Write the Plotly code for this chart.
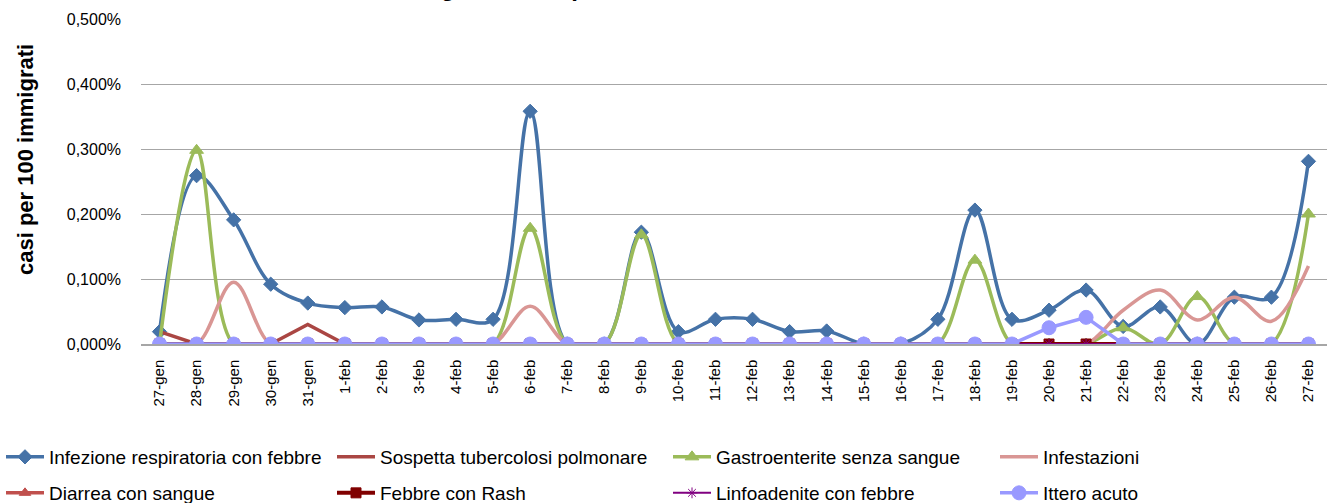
import plotly.graph_objects as go

categories = ["27-gen", "28-gen", "29-gen", "30-gen", "31-gen",
              "1-feb", "2-feb", "3-feb", "4-feb", "5-feb", "6-feb", "7-feb",
              "8-feb", "9-feb", "10-feb", "11-feb", "12-feb", "13-feb", "14-feb",
              "15-feb", "16-feb", "17-feb", "18-feb", "19-feb", "20-feb", "21-feb",
              "22-feb", "23-feb", "24-feb", "25-feb", "26-feb", "27-feb"]

# values in percent (casi per 100 immigrati)
infezione_respiratoria = [0.019, 0.259, 0.191, 0.092, 0.063, 0.056, 0.057, 0.037, 0.038, 0.038,
                          0.358, 0.0, 0.0, 0.172, 0.019, 0.038, 0.038, 0.019, 0.020, 0.0,
                          0.0, 0.038, 0.206, 0.038, 0.052, 0.083, 0.027, 0.057, 0.0, 0.072,
                          0.072, 0.281]
sospetta_tbc = [0.019, 0.0, 0.0, 0.0, 0.030, 0.0, 0.0, 0.0, 0.0, 0.0,
                0.0, 0.0, 0.0, 0.0, 0.0, 0.0, 0.0, 0.0, 0.0, 0.0,
                0.0, 0.0, 0.0, 0.0, 0.0, 0.0, 0.0, 0.0, 0.0, 0.0,
                0.0, 0.0]
gastroenterite = [0.0, 0.298, 0.0, 0.0, 0.0, 0.0, 0.0, 0.0, 0.0, 0.0,
                  0.178, 0.0, 0.0, 0.168, 0.0, 0.0, 0.0, 0.0, 0.0, 0.0,
                  0.0, 0.0, 0.129, 0.0, 0.0, 0.0, 0.025, 0.0, 0.073, 0.0,
                  0.0, 0.200]
infestazioni = [0.0, 0.0, 0.095, 0.0, 0.0, 0.0, 0.0, 0.0, 0.0, 0.0,
                0.058, 0.0, 0.0, 0.0, 0.0, 0.0, 0.0, 0.0, 0.0, 0.0,
                0.0, 0.0, 0.0, 0.0, 0.0, 0.0, 0.052, 0.083, 0.037, 0.072,
                0.035, 0.120]
diarrea = [0.0] * 32
febbre_rash = [0.0] * 32
linfoadenite = [0.0] * 32
ittero = [0.0, 0.0, 0.0, 0.0, 0.0, 0.0, 0.0, 0.0, 0.0, 0.0,
          0.0, 0.0, 0.0, 0.0, 0.0, 0.0, 0.0, 0.0, 0.0, 0.0,
          0.0, 0.0, 0.0, 0.0, 0.025, 0.041, 0.0, 0.0, 0.0, 0.0,
          0.0, 0.0]

y_ticks = [0.0, 0.1, 0.2, 0.3, 0.4, 0.5]
y_tick_labels = ["0,000%", "0,100%", "0,200%", "0,300%", "0,400%", "0,500%"]

W, H = 1330, 503
L, R, T, B = 141, 3, 19, 159
PW, PH = W - L - R, H - T - B

series = [
    dict(name="Infezione respiratoria con febbre", y=infezione_respiratoria, color="#4572A7",
         width=3.5, symbol="diamond", size=11, shape="spline"),
    dict(name="Sospetta tubercolosi polmonare", y=sospetta_tbc, color="#AA4643",
         width=3.5, symbol=None, size=0, shape="linear"),
    dict(name="Gastroenterite senza sangue", y=gastroenterite, color="#9BBB59",
         width=3.5, symbol="triangle-up", size=12, shape="spline"),
    dict(name="Infestazioni", y=infestazioni, color="#D99694",
         width=3.5, symbol=None, size=0, shape="spline"),
    dict(name="Diarrea con sangue", y=diarrea, color="#C0504D",
         width=3.5, symbol="triangle-up", size=10, shape="linear"),
    dict(name="Febbre con Rash", y=febbre_rash, color="#800000",
         width=4, symbol="square", size=10, shape="linear"),
    dict(name="Linfoadenite con febbre", y=linfoadenite, color="#800080",
         width=2, symbol="asterisk-open", size=9, shape="linear"),
    dict(name="Ittero acuto", y=ittero, color="#9999FF",
         width=3.5, symbol="circle", size=14, shape="linear"),
]

# legend item positions (pixels: left x, center y)
legend_pos = [(1, 457), (332, 457), (668, 457), (995, 457),
              (1, 493), (332, 493), (668, 493), (995, 493)]

fig = go.Figure()
layout_legends = {}
for i, s in enumerate(series):
    lname = "legend" if i == 0 else f"legend{i + 1}"
    mode = "lines+markers" if s["symbol"] else "lines"
    tr = go.Scatter(
        x=categories, y=s["y"], name=s["name"], mode=mode,
        line=dict(color=s["color"], width=s["width"], shape=s["shape"], smoothing=1.0),
        legend=lname, showlegend=True,
    )
    if s["symbol"]:
        tr.marker = dict(symbol=s["symbol"], size=s["size"], color=s["color"],
                         line=dict(color=s["color"], width=1))
    fig.add_trace(tr)
    px, py = legend_pos[i]
    layout_legends[lname] = dict(
        xref="container", yref="container",
        x=px / W, y=1 - py / H, xanchor="left", yanchor="middle",
        font=dict(family="Liberation Sans", size=19, color="#000000"),
        bgcolor="rgba(0,0,0,0)", borderwidth=0, itemwidth=38,
        tracegroupgap=0,
    )

fig.update_layout(
    width=W, height=H,
    margin=dict(l=L, r=R, t=T, b=B, pad=0, autoexpand=False),
    paper_bgcolor="white", plot_bgcolor="white",
    font=dict(family="Liberation Sans", size=15, color="#000000"),
    xaxis=dict(
        type="category", range=[-0.5, len(categories) - 0.5],
        tickangle=-90, showgrid=False, zeroline=False,
        showline=True, linecolor="#A6A6A6", linewidth=1.5,
        ticks="", tickfont=dict(family="Liberation Sans", size=15, color="#000000"),
        ticklabelstandoff=8, automargin=False,
    ),
    yaxis=dict(
        range=[0, 0.5], tickvals=y_ticks, ticktext=y_tick_labels,
        showgrid=True, gridcolor="#A6A6A6", gridwidth=1.3,
        zeroline=False, showline=False,
        ticks="", tickfont=dict(family="Liberation Sans", size=16, color="#000000"),
        ticklabelstandoff=19, automargin=False,
    ),
    annotations=[
        dict(text="<b>casi per 100 immigrati</b>", textangle=-90,
             xref="paper", yref="paper", x=(25 - L) / PW, y=(H - B - 160) / PH,
             xanchor="center", yanchor="middle", showarrow=False,
             font=dict(family="Liberation Sans", size=22, color="#000000")),
        dict(text="<b>Andamento giornaliero per sindrome, 27/01/2011 - 27/02/2011</b>",
             xref="paper", yref="paper", x=(300 - L) / PW, y=1 + 16 / PH,
             xanchor="left", yanchor="bottom", showarrow=False,
             font=dict(family="Liberation Sans", size=24, color="#000000")),
    ],
    **layout_legends,
)

fig.write_html(
    "out.html",
    config={"displayModeBar": False},
    post_script="document.body.style.margin='0';document.body.style.overflow='hidden';",
)
